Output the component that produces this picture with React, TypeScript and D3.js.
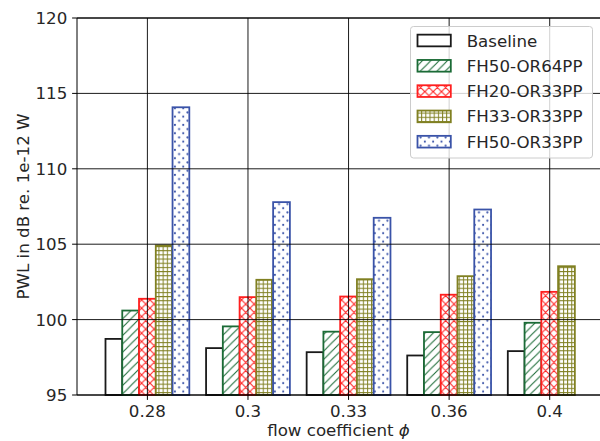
import React from 'react';
import * as d3 from 'd3';

const categories = ['0.28', '0.3', '0.33', '0.36', '0.4'];
const seriesNames = ['Baseline', 'FH50-OR64PP', 'FH20-OR33PP', 'FH33-OR33PP', 'FH50-OR33PP'];
const baseline = [98.72, 98.11, 97.84, 97.62, 97.91];
const fh50or64 = [100.6, 99.55, 99.2, 99.17, 99.79];
const fh20or33 = [101.38, 101.49, 101.53, 101.65, 101.84];
const fh33or33 = [104.92, 102.64, 102.68, 102.88, 103.54];
const fh50or33: (number | null)[] = [114.08, 107.79, 106.75, 107.3, null];
const yTicks = [95, 100, 105, 110, 115, 120];

const seriesValues = [baseline, fh50or64, fh20or33, fh33or33, fh50or33];
const colors = ['#1a1a1a', '#1b6b36', '#ff1f1f', '#808022', '#3a53a8'];
const patternIds = ['none', 'hatchDiag', 'hatchCross', 'hatchGrid', 'hatchDots'];

const W = 600, H = 441;
const L = 77, R = 600, T = 18, B = 395;
const FONT = 'DejaVu Sans, sans-serif';
const FS = 16.67;
const TXT = '#262626';

export default function App() {
  const x = d3.scaleLinear().domain([-0.7, 4.5]).range([L, R]);
  const y = d3.scaleLinear().domain([95, 120]).range([B, T]);
  const barW = 1 / 6;
  const s = 8.33;
  const g = 4.17;
  const d = 8.33;

  const bars: React.ReactNode[] = [];
  seriesValues.forEach((vals, si) => {
    vals.forEach((v, ci) => {
      if (v === null || v === undefined) return;
      const cx = ci + (si - 2) * barW;
      const x0 = x(cx - barW / 2);
      const x1 = x(cx + barW / 2);
      const yt = y(v as number);
      const fill = patternIds[si] === 'none' ? 'none' : `url(#${patternIds[si]})`;
      bars.push(
        <g key={`b${si}-${ci}`}>
          <rect x={x0} y={yt} width={x1 - x0} height={B - yt} fill="#fff" />
          {fill !== 'none' && <rect x={x0} y={yt} width={x1 - x0} height={B - yt} fill={fill} />}
          <rect x={x0} y={yt} width={x1 - x0} height={B - yt} fill="none" stroke={colors[si]} strokeWidth={1.8} />
        </g>
      );
    });
  });

  const legendX = 410.5, legendY = 26.5;
  const rowY = (i: number) => 40.5 + i * 25.3;

  return (
    <div style={{ position: 'fixed', left: 0, top: 0, width: W, height: H, background: '#fff' }}>
      <svg width={W} height={H} style={{ display: 'block' }}>
        <defs>
          <pattern id="hatchDiag" patternUnits="userSpaceOnUse" width={s} height={s}>
            <path d={`M0,${s} L${s},0 M${-s / 2},${s / 2} L${s / 2},${-s / 2} M${s / 2},${s * 1.5} L${s * 1.5},${s / 2}`} stroke={colors[1]} strokeWidth={1.1} fill="none" />
          </pattern>
          <pattern id="hatchCross" patternUnits="userSpaceOnUse" width={s} height={s}>
            <path d={`M0,${s} L${s},0 M${-s / 2},${s / 2} L${s / 2},${-s / 2} M${s / 2},${s * 1.5} L${s * 1.5},${s / 2} M0,0 L${s},${s} M${-s / 2},${s / 2} L${s / 2},${s * 1.5} M${s / 2},${-s / 2} L${s * 1.5},${s / 2}`} stroke={colors[2]} strokeWidth={1.1} fill="none" />
          </pattern>
          <pattern id="hatchGrid" patternUnits="userSpaceOnUse" width={g} height={g}>
            <path d={`M0,0.5 L${g},0.5 M0.5,0 L0.5,${g}`} stroke={colors[3]} strokeWidth={1.0} fill="none" />
          </pattern>
          <pattern id="hatchDots" patternUnits="userSpaceOnUse" width={d} height={d}>
            <circle cx={0} cy={0} r={1.05} fill={colors[4]} />
            <circle cx={d} cy={0} r={1.05} fill={colors[4]} />
            <circle cx={0} cy={d} r={1.05} fill={colors[4]} />
            <circle cx={d} cy={d} r={1.05} fill={colors[4]} />
            <circle cx={d / 2} cy={d / 2} r={1.05} fill={colors[4]} />
          </pattern>
        </defs>

        {bars}

        {/* grid lines (drawn above bars, like matplotlib default) */}
        {yTicks.map((t) => (
          <line key={`gy${t}`} x1={L} x2={R} y1={y(t)} y2={y(t)} stroke="#000" strokeWidth={0.9} />
        ))}
        {categories.map((c, i) => (
          <line key={`gx${c}`} x1={x(i)} x2={x(i)} y1={T} y2={B} stroke="#000" strokeWidth={0.9} />
        ))}

        {/* spines */}
        <line x1={L} x2={L} y1={T} y2={B} stroke="#000" strokeWidth={1} />
        <line x1={L} x2={R} y1={B} y2={B} stroke="#000" strokeWidth={1} />
        <line x1={L} x2={R} y1={T} y2={T} stroke="#000" strokeWidth={1} />

        {/* y ticks */}
        {yTicks.map((t) => (
          <g key={`yt${t}`}>
            <line x1={L - 4.9} x2={L} y1={y(t)} y2={y(t)} stroke="#000" strokeWidth={1} />
            <text x={L - 9.7} y={y(t)} dy="0.36em" textAnchor="end" fontFamily={FONT} fontSize={FS} fill={TXT}>{t}</text>
          </g>
        ))}
        {/* x ticks */}
        {categories.map((c, i) => (
          <g key={`xt${c}`}>
            <line x1={x(i)} x2={x(i)} y1={B} y2={B + 4.9} stroke="#000" strokeWidth={1} />
            <text x={x(i)} y={416.5} textAnchor="middle" fontFamily={FONT} fontSize={FS} fill={TXT}>{c}</text>
          </g>
        ))}

        {/* axis labels */}
        <text x={(L + R) / 2} y={436} textAnchor="middle" fontFamily={FONT} fontSize={FS} fill={TXT}>
          flow coefficient <tspan fontStyle="italic">ϕ</tspan>
        </text>
        <text transform={`translate(29,${(T + B) / 2}) rotate(-90)`} textAnchor="middle" fontFamily={FONT} fontSize={FS} fill={TXT}>
          PWL in dB re. 1e-12 W
        </text>

        {/* legend */}
        <rect x={legendX} y={legendY} width={182} height={131.5} rx={3} ry={3} fill="#fff" fillOpacity={0.8} stroke="#cccccc" strokeWidth={1} />
        {seriesNames.map((n, i) => {
          const cy = rowY(i);
          const hx = 417.5, hw = 33.3, hh = 11.7;
          const fill = patternIds[i] === 'none' ? 'none' : `url(#${patternIds[i]})`;
          return (
            <g key={`lg${n}`}>
              <rect x={hx} y={cy - hh / 2} width={hw} height={hh} fill="#fff" />
              {fill !== 'none' && <rect x={hx} y={cy - hh / 2} width={hw} height={hh} fill={fill} />}
              <rect x={hx} y={cy - hh / 2} width={hw} height={hh} fill="none" stroke={colors[i]} strokeWidth={1.8} />
              <text x={466.7} y={cy} dy="0.36em" fontFamily={FONT} fontSize={FS} fill={TXT}>{n}</text>
            </g>
          );
        })}
      </svg>
    </div>
  );
}
